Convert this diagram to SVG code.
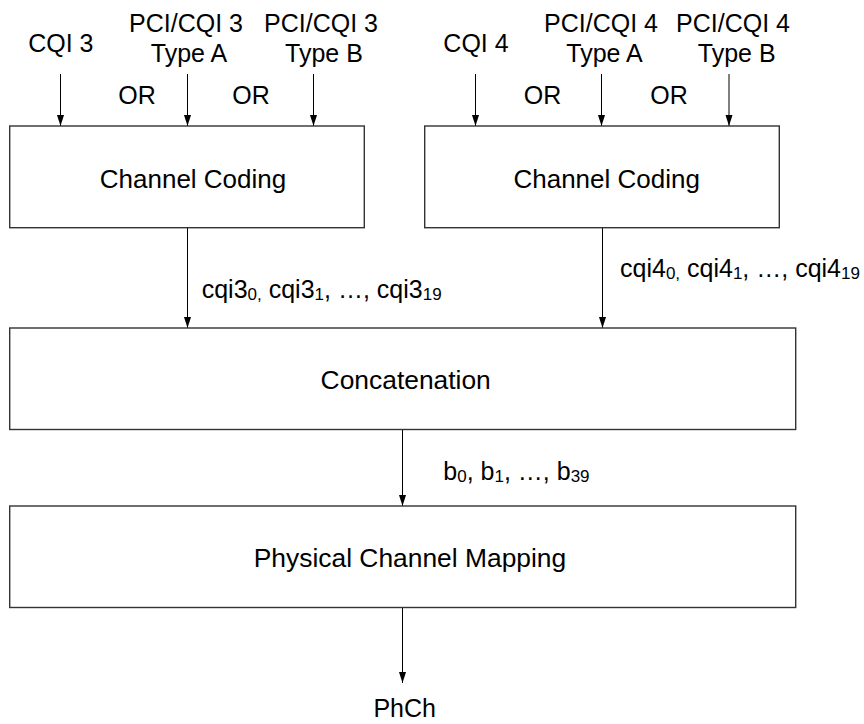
<svg xmlns="http://www.w3.org/2000/svg" width="864" height="724" viewBox="0 0 864 724">
<defs>
<marker id="ah" markerUnits="userSpaceOnUse" markerWidth="12" markerHeight="8" refX="11" refY="3.5" orient="auto">
<path d="M0,0 L11,3.5 L0,7 z" fill="#000"/>
</marker>
<style>
.box{fill:#fff;stroke:#333;stroke-width:1.4}
.con{stroke:#000;stroke-width:1;fill:none;marker-end:url(#ah)}
text{font-family:"Liberation Sans",Arial,sans-serif;fill:#000}
.lbl{font-size:25px}
.big{font-size:26px}
.box-t{font-size:26.4px}
.sub{font-size:17px}
</style>
</defs>
<rect width="864" height="724" fill="#fff"/>
<g id="connectors">
<line class="con" x1="60.5" y1="74" x2="60.5" y2="126"/>
<line class="con" x1="187.5" y1="74" x2="187.5" y2="126"/>
<line class="con" x1="313.5" y1="74" x2="313.5" y2="126"/>
<line class="con" x1="475.5" y1="74" x2="475.5" y2="126"/>
<line class="con" x1="601.5" y1="74" x2="601.5" y2="126"/>
<line class="con" x1="729" y1="74" x2="729" y2="126"/>
<line class="con" x1="187.5" y1="228" x2="187.5" y2="328"/>
<line class="con" x1="602.5" y1="228" x2="602.5" y2="328"/>
<line class="con" x1="402.5" y1="429.5" x2="402.5" y2="506"/>
<line class="con" x1="402.5" y1="607.5" x2="402.5" y2="683"/>
</g>
<g id="inputs3">
<text class="lbl" x="60.8" y="51.7" text-anchor="middle">CQI 3</text>
<text class="lbl" x="186" y="31.7" text-anchor="middle">PCI/CQI 3</text>
<text class="lbl" x="189" y="61.7" text-anchor="middle">Type A</text>
<text class="lbl" x="321" y="31.7" text-anchor="middle">PCI/CQI 3</text>
<text class="lbl" x="324" y="61.7" text-anchor="middle">Type B</text>
<text class="lbl" x="137" y="103.5" text-anchor="middle">OR</text>
<text class="lbl" x="251" y="103.5" text-anchor="middle">OR</text>
</g>
<g id="inputs4">
<text class="lbl" x="476" y="51.7" text-anchor="middle">CQI 4</text>
<text class="lbl" x="601" y="31.7" text-anchor="middle">PCI/CQI 4</text>
<text class="lbl" x="604.5" y="61.7" text-anchor="middle">Type A</text>
<text class="lbl" x="733" y="31.7" text-anchor="middle">PCI/CQI 4</text>
<text class="lbl" x="736.7" y="61.7" text-anchor="middle">Type B</text>
<text class="lbl" x="542.5" y="103.5" text-anchor="middle">OR</text>
<text class="lbl" x="669" y="103.5" text-anchor="middle">OR</text>
</g>
<g id="coding3">
<rect class="box" x="9.7" y="126" width="354.6" height="101.7"/>
<text class="big" x="193" y="188" text-anchor="middle">Channel Coding</text>
</g>
<g id="coding4">
<rect class="box" x="424.7" y="126" width="354.6" height="101.7"/>
<text class="big" x="606.7" y="188" text-anchor="middle">Channel Coding</text>
</g>
<g id="label-cqi3">
<text class="lbl" x="201.7" y="298">cqi3<tspan class="sub" dy="2">0,</tspan><tspan dy="-2"> cqi3</tspan><tspan class="sub" dy="2">1</tspan><tspan dy="-2">, …, cqi3</tspan><tspan class="sub" dy="2">19</tspan></text>
</g>
<g id="label-cqi4">
<text class="lbl" x="620" y="277">cqi4<tspan class="sub" dy="2">0,</tspan><tspan dy="-2"> cqi4</tspan><tspan class="sub" dy="2">1</tspan><tspan dy="-2">, …, cqi4</tspan><tspan class="sub" dy="2">19</tspan></text>
</g>
<g id="concatenation">
<rect class="box" x="9.7" y="328" width="786" height="101.5"/>
<text class="box-t" x="405.7" y="389" text-anchor="middle">Concatenation</text>
</g>
<g id="label-b">
<text class="lbl" x="443.3" y="480">b<tspan class="sub" dy="2">0</tspan><tspan dy="-2">, b</tspan><tspan class="sub" dy="2">1</tspan><tspan dy="-2">, …, b</tspan><tspan class="sub" dy="2">39</tspan></text>
</g>
<g id="mapping">
<rect class="box" x="9.7" y="506" width="786" height="101.5"/>
<text class="box-t" x="410" y="566.5" text-anchor="middle">Physical Channel Mapping</text>
</g>
<g id="phch">
<text class="lbl" x="404.7" y="717" text-anchor="middle">PhCh</text>
</g>
</svg>
